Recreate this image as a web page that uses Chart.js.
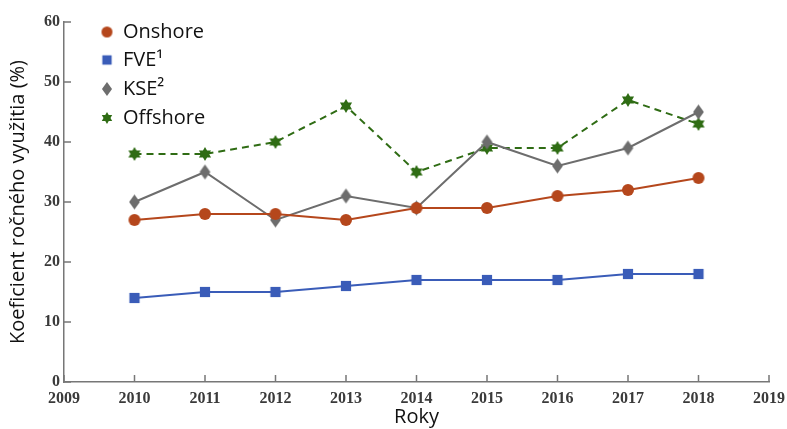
<!DOCTYPE html>
<html>
<head>
<meta charset="utf-8">
<script src="https://cdn.jsdelivr.net/npm/chart.js@4.4.0/dist/chart.umd.min.js"></script>
<style>
  html, body { margin: 0; padding: 0; background: #fff; }
  #wrap { width: 787px; height: 429px; }
</style>
</head>
<body>
<div id="wrap"><canvas id="myChart" width="787" height="429"></canvas></div>
<script>
// data
const years = [2010, 2011, 2012, 2013, 2014, 2015, 2016, 2017, 2018];
const onshore = [27, 28, 28, 27, 29, 29, 31, 32, 34];
const fve = [14, 15, 15, 16, 17, 17, 17, 18, 18];
const kse = [30, 35, 27, 31, 29, 40, 36, 39, 45];
const offshore = [38, 38, 40, 46, 35, 39, 39, 47, 43];
const seriesNames = ["Onshore", "FVE\u00b9", "KSE\u00b2", "Offshore"];
const yTicks = [0, 10, 20, 30, 40, 50, 60];
const xTicks = [2009, 2010, 2011, 2012, 2013, 2014, 2015, 2016, 2017, 2018, 2019];

const colors = ["#b5471c", "#3a5cb8", "#6d6d6d", "#2f6c14"];

// marker images
function makeMarker(kind, color, s) {
  const c = document.createElement("canvas");
  c.width = 2 * s + 2;
  c.height = 2 * s + 2;
  const g = c.getContext("2d");
  const m = s + 1;
  g.fillStyle = color;
  g.beginPath();
  if (kind == "circle") {
    g.arc(m, m, s, 0, Math.PI * 2);
  } else if (kind == "square") {
    let h = s * 0.85;
    g.rect(m - h, m - h, 2 * h, 2 * h);
  } else if (kind == "diamond") {
    g.moveTo(m, m - s);
    g.lineTo(m + s * 0.72, m);
    g.lineTo(m, m + s);
    g.lineTo(m - s * 0.72, m);
    g.closePath();
  } else if (kind == "star") {
    for (let i = 0; i < 12; i++) {
      let r = i % 2 == 0 ? s : s * 0.58;
      let a = -Math.PI / 2 + (i * Math.PI) / 6;
      let px = m + r * Math.cos(a);
      let py = m + r * Math.sin(a);
      if (i == 0) g.moveTo(px, py);
      else g.lineTo(px, py);
    }
    g.closePath();
  }
  g.fill();
  return c;
}

const markers = [
  makeMarker("circle", colors[0], 6),
  makeMarker("square", colors[1], 6),
  makeMarker("diamond", colors[2], 7.5),
  makeMarker("star", colors[3], 7),
];
const legendMarkers = [
  makeMarker("circle", colors[0], 5.5),
  makeMarker("square", colors[1], 5.5),
  makeMarker("diamond", colors[2], 7),
  makeMarker("star", colors[3], 6),
];

function toPoints(vals) {
  return years.map((yr, i) => ({ x: yr, y: vals[i] }));
}

const allSeries = [onshore, fve, kse, offshore];
const datasets = allSeries.map((vals, i) => ({
  label: seriesNames[i],
  data: toPoints(vals),
  borderColor: colors[i],
  backgroundColor: colors[i],
  borderWidth: 2,
  borderDash: i == 3 ? [7, 5] : [],
  pointStyle: markers[i],
  tension: 0,
}));

// legend drawn inside the plot, top left
const innerLegend = {
  id: "innerLegend",
  afterDraw(chart) {
    const ctx = chart.ctx;
    const rows = [32, 60, 89, 118];
    ctx.save();
    ctx.font = "20px 'Open Sans'";
    ctx.fillStyle = "#111";
    ctx.textBaseline = "middle";
    ctx.textAlign = "left";
    chart.data.datasets.forEach((ds, i) => {
      const mk = legendMarkers[i];
      ctx.drawImage(mk, 107 - mk.width / 2, rows[i] - mk.height / 2);
      ctx.fillText(ds.label, 123, rows[i]);
    });
    ctx.restore();
  },
};

// short ticks pointing into the plot
const innerTicks = {
  id: "innerTicks",
  afterDraw(chart) {
    const ctx = chart.ctx;
    const xs = chart.scales.x;
    const ys = chart.scales.y;
    const area = chart.chartArea;
    ctx.save();
    ctx.strokeStyle = "#777";
    ctx.lineWidth = 1.5;
    ctx.beginPath();
    xTicks.forEach((v) => {
      let px = xs.getPixelForValue(v);
      ctx.moveTo(px, area.bottom);
      ctx.lineTo(px, area.bottom - 7);
    });
    yTicks.forEach((v) => {
      let py = ys.getPixelForValue(v);
      ctx.moveTo(area.left, py);
      ctx.lineTo(area.left + 7, py);
    });
    ctx.stroke();
    ctx.restore();
  },
};

new Chart(document.getElementById("myChart"), {
  type: "line",
  data: { datasets: datasets },
  plugins: [innerTicks, innerLegend],
  options: {
    responsive: false,
    animation: false,
    layout: { padding: { top: 22, right: 18, left: 0, bottom: 0 } },
    plugins: {
      legend: { display: false },
      tooltip: { enabled: false },
    },
    scales: {
      x: {
        type: "linear",
        min: 2009,
        max: 2019,
        afterBuildTicks: (scale) => {
          scale.ticks = xTicks.map((v) => ({ value: v }));
        },
        afterFit: (scale) => {
          scale.height = 47;
          scale.paddingLeft = 0;
          scale.paddingRight = 0;
        },
        ticks: {
          callback: (v) => String(v),
          color: "#3a3a3a",
          font: { family: "'Liberation Serif'", size: 16, weight: "bold" },
          padding: 7,
          maxRotation: 0,
          autoSkip: false,
        },
        grid: { display: false, drawTicks: false },
        border: { display: true, color: "#777", width: 1.5 },
        title: {
          display: true,
          text: "Roky",
          color: "#111",
          font: { family: "'Open Sans'", size: 20 },
          padding: { top: 0, bottom: 0 },
        },
      },
      y: {
        min: 0,
        max: 60,
        afterBuildTicks: (scale) => {
          scale.ticks = yTicks.map((v) => ({ value: v }));
        },
        afterFit: (scale) => {
          scale.width = 64;
          scale.paddingTop = 0;
          scale.paddingBottom = 0;
        },
        ticks: {
          color: "#3a3a3a",
          font: { family: "'Liberation Serif'", size: 16, weight: "bold" },
          padding: 4,
        },
        grid: { display: false, drawTicks: false },
        border: { display: true, color: "#777", width: 1.5 },
        title: {
          display: true,
          text: "Koeficient ročného využitia (%)",
          color: "#111",
          font: { family: "'Open Sans'", size: 20 },
          padding: { top: 6, bottom: 0 },
        },
      },
    },
  },
});
</script>
</body>
</html>
